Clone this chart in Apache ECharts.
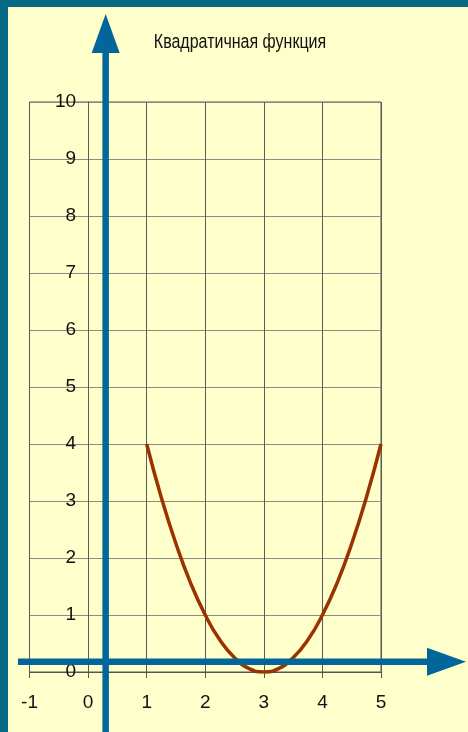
<!DOCTYPE html>
<html><head><meta charset="utf-8">
<script src="https://cdn.jsdelivr.net/npm/echarts@6/dist/echarts.min.js"></script>
<style>html,body{margin:0;padding:0;background:#086985;}#c{width:468px;height:732px;}</style>
</head><body><div id="c"></div>
<script>
const titleText = 'Квадратичная функция';
const xValues = [1, 1.25, 1.5, 1.75, 2, 2.25, 2.5, 2.75, 3, 3.25, 3.5, 3.75, 4, 4.25, 4.5, 4.75, 5];
const yValues = [4, 3.06, 2.25, 1.56, 1, 0.56, 0.25, 0.06, 0, 0.06, 0.25, 0.56, 1, 1.56, 2.25, 3.06, 4];
const xTicks = [-1, 0, 1, 2, 3, 4, 5];
const yTicks = [0, 1, 2, 3, 4, 5, 6, 7, 8, 9, 10];
const arrowX = 0.3;   // where the drawn vertical arrow crosses
const arrowY = 0.18;  // where the drawn horizontal arrow crosses

const FONT = '"Liberation Sans", Arial, sans-serif';
const chart = echarts.init(document.getElementById('c'));
const gridW = 351.5;
const option = {
  backgroundColor: '#086985',
  animation: false,
  grid: { left: 29.5, top: 102, width: gridW, height: 570, containLabel: false, outerBoundsMode: 'none',
    show: true, borderColor: '#555', borderWidth: 1, backgroundColor: 'transparent' },
  xAxis: { type: 'value', min: -1, max: 5, interval: 1,
    axisLine: { onZero: false, lineStyle: { color: '#555', width: 1 } },
    axisTick: { show: true, length: 6, lineStyle: { color: '#555' } },
    splitLine: { show: true, lineStyle: { color: '#5a5a5a', width: 1 } },
    axisLabel: { margin: 21, fontFamily: FONT, fontSize: 19, color: '#111',
      formatter: v => xTicks.includes(v) ? String(v) : '' } },
  yAxis: { type: 'value', min: 0, max: 10, interval: 1, offset: -gridW / 6,
    axisLine: { show: true, onZero: false, lineStyle: { color: '#5a5a5a', width: 1 } },
    axisTick: { show: false },
    splitLine: { show: true, lineStyle: { color: '#8c8c84', width: 1 } },
    axisLabel: { margin: 12, fontFamily: FONT, fontSize: 19, color: '#111',
      formatter: v => yTicks.includes(v) ? String(v) : '' } },
  series: [{ type: 'line', data: xValues.map((x, i) => [x, yValues[i]]),
    smooth: true, showSymbol: false, z: 5,
    lineStyle: { color: '#993300', width: 3.5 } }],
  graphic: [{ type: 'rect', z: -100, silent: true,
    shape: { x: 8, y: 7, width: 460, height: 725 }, style: { fill: '#FFFFCC' } }]
};
chart.setOption(option);

const ax = chart.convertToPixel({ gridIndex: 0 }, [arrowX, arrowY]);
const blue = '#03669A';
chart.setOption({ graphic: [
  { type: 'rect', z: -100, silent: true, shape: { x: 8, y: 7, width: 460, height: 725 }, style: { fill: '#FFFFCC' } },
  { type: 'text', z: 50, x: 240, y: 42, scaleX: 0.8,
    style: { text: titleText, font: '20px ' + FONT, fill: '#111', align: 'center', verticalAlign: 'middle' } },
  { type: 'line', z: 100, shape: { x1: ax[0], y1: 732, x2: ax[0], y2: 52 }, style: { stroke: blue, lineWidth: 6.5 } },
  { type: 'polygon', z: 100, shape: { points: [[ax[0] - 14, 53], [ax[0] + 14, 53], [ax[0], 14]] }, style: { fill: blue } },
  { type: 'line', z: 100, shape: { x1: 18, y1: ax[1], x2: 428, y2: ax[1] }, style: { stroke: blue, lineWidth: 6.5 } },
  { type: 'polygon', z: 100, shape: { points: [[427, ax[1] - 14], [427, ax[1] + 14], [466, ax[1]]] }, style: { fill: blue } }
] });
</script></body></html>
